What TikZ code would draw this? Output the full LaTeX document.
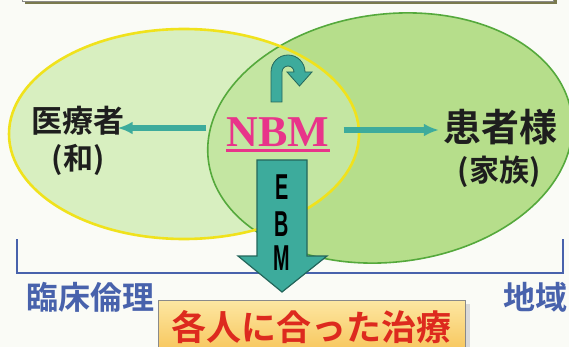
\documentclass[tikz,border=0pt]{standalone}
\usepackage{fontspec}
\setmainfont{Liberation Serif}
\newfontfamily\jp{Noto Sans CJK JP}[BoldFont={Noto Sans CJK JP Bold}]
\newfontfamily\lsans{Liberation Sans}
\usetikzlibrary{arrows.meta}
\definecolor{bgc}{HTML}{FAFBF6}
\definecolor{leftfill}{HTML}{D8EFC0}
\definecolor{rightfill}{HTML}{B6DE8B}
\definecolor{overfill}{HTML}{C4E6A2}
\definecolor{yborder}{HTML}{F0E21C}
\definecolor{gborder}{HTML}{55A93C}
\definecolor{tealc}{HTML}{3DAB9C}
\definecolor{tealdark}{HTML}{24665B}
\definecolor{pinkc}{HTML}{E8348A}
\definecolor{bluec}{HTML}{4862AC}
\definecolor{redc}{HTML}{DD2A1E}
\definecolor{boxtop}{HTML}{FDE7A2}
\definecolor{boxbot}{HTML}{F7C458}
\definecolor{boxgray}{HTML}{8A8A8A}
\definecolor{labelc}{HTML}{1E1E1E}
\definecolor{topshadow}{HTML}{7A7A4E}
\begin{document}
\begin{tikzpicture}[x=1pt,y=-1pt,
  lbl/.style={font=\jp\bfseries\fontsize{#1}{#1}\selectfont, text=labelc, inner sep=0pt},
  harrow/.style={draw=tealc, line width=5.5pt, -{Latex[length=15pt,width=13pt]}},
  ebmletter/.style={font=\lsans\bfseries\fontsize{36}{36}\selectfont, text=black, inner sep=0pt},
  bluelbl/.style={font=\jp\bfseries\fontsize{32}{32}\selectfont, text=bluec, inner sep=0pt}]
\useasboundingbox (0,0) rectangle (569,347);
\fill[bgc] (0,0) rectangle (569,347);
% top box (cut off)
\fill[topshadow] (25,-5) rectangle (557,4.5);
\filldraw[fill=white!95!yellow, draw=boxgray, line width=0.6pt] (22,-10) rectangle (553,1.5);
% ellipses
\fill[leftfill] (184,134) ellipse [x radius=175pt, y radius=105pt];
\fill[rightfill, rotate around={7:(390,138)}] (390,138) ellipse [x radius=183pt, y radius=124pt];
\begin{scope}
  \clip (184,134) ellipse [x radius=175pt, y radius=105pt];
  \fill[overfill, rotate around={7:(390,138)}] (390,138) ellipse [x radius=183pt, y radius=124pt];
\end{scope}
\draw[gborder, line width=1.6pt, rotate around={7:(390,138)}] (390,138) ellipse [x radius=183pt, y radius=124pt];
\draw[yborder, line width=2.6pt] (184,134) ellipse [x radius=175pt, y radius=105pt];
% bracket
\draw[bluec, line width=2.4pt] (17,239) -- (17,273) -- (563,273) -- (563,239);
% labels
\node[lbl=31] (a) at (78,121) {医療者};
\node[lbl=30] (a2) at (78,160) {(和)};
\node[lbl=38] (p) at (500,127) {患者様};
\node[lbl=30] (p2) at (499,172) {(家族)};
% NBM
\node[font=\bfseries\fontsize{44}{44}\selectfont, text=pinkc, inner sep=0pt] (n) at (278,132) {NBM};
\draw[pinkc, line width=2.4pt] ([yshift=-4pt]n.south west) -- ([yshift=-4pt]n.south east);
% horizontal arrows
\draw[harrow, shorten <=20pt, shorten >=-7pt] (n.west |- 0,128) -- (a.east |- 0,128);
\draw[harrow, shorten <=14pt, shorten >=4pt] (n.east |- 0,130) -- (p.west |- 0,130);
% curved arrow
\filldraw[fill=tealc, draw=tealdark, line width=0.8pt]
  (271,102) -- (271,72) arc [start angle=180, end angle=0, radius=17pt]
  -- (312,72) -- (299.5,86) -- (287,72) -- (294,72)
  arc [start angle=0, end angle=180, radius=6pt] -- (282,102) -- cycle;
% EBM arrow
\filldraw[fill=tealc, draw=tealdark, line width=1.2pt]
  (257,160) -- (307,160) -- (307,256) -- (327,256) -- (282,292) -- (238,256) -- (257,256) -- cycle;
\node[ebmletter] (e1) at (282,187) {\scalebox{0.55}[1]{E}};
\node[ebmletter] (e2) at (282,224) {\scalebox{0.55}[1]{B}};
\node[ebmletter] (e3) at (282,258) {\scalebox{0.55}[1]{M}};
% bottom labels
\node[bluelbl] (c) at (90,297) {臨床倫理};
\node[bluelbl, anchor=west] (r) at (503,297) {地域};
% bottom box
\fill[gray!30] (466,304) rectangle (470,350);
\node[draw=boxgray, line width=0.8pt, top color=boxtop, bottom color=boxbot,
  minimum width=307pt, minimum height=54pt, anchor=north, inner sep=0pt,
  font=\jp\bfseries\fontsize{35}{35}\selectfont, text=redc] (t) at (311.5,300) {各人に合った治療};
\end{tikzpicture}
\end{document}
